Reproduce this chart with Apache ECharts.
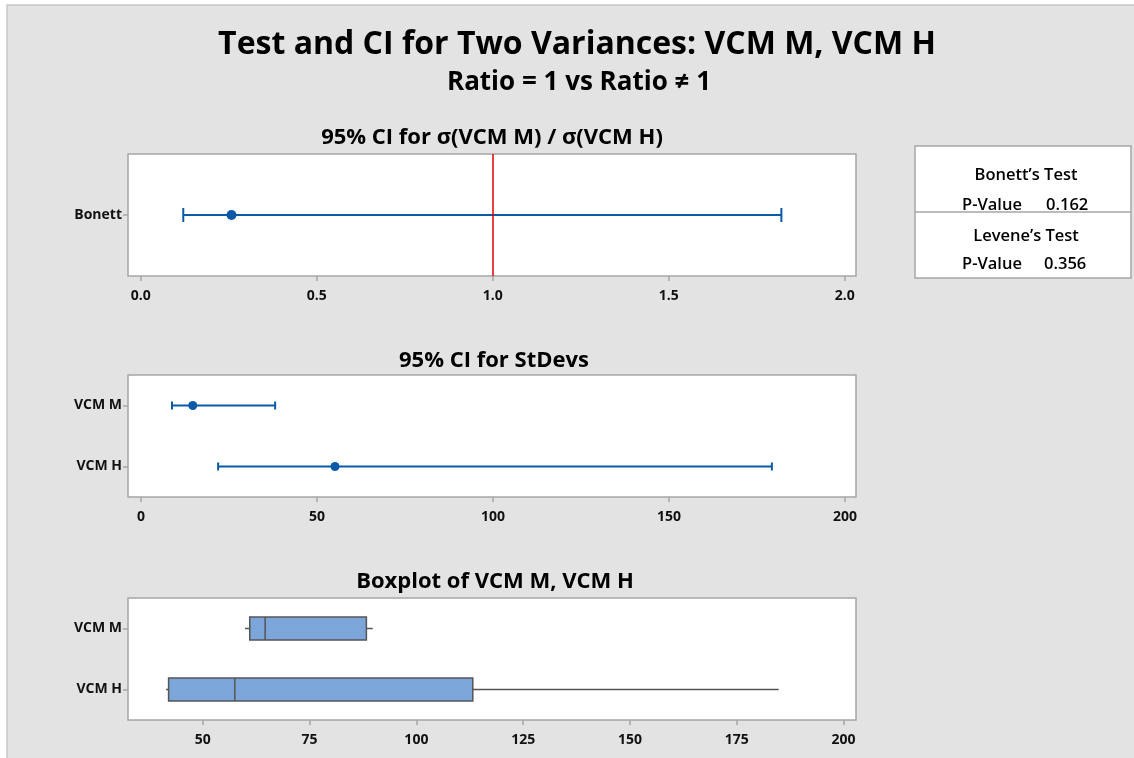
<!DOCTYPE html>
<html>
<head>
<meta charset="utf-8">
<script src="https://cdn.jsdelivr.net/npm/echarts@6/dist/echarts.min.js"></script>
<style>
html,body{margin:0;padding:0;background:#fff;}
#chart{width:1134px;height:758px;}
</style>
</head>
<body>
<div id="chart"></div>
<script>
// ---- data ----
const mainTitle = 'Test and CI for Two Variances: VCM M, VCM H';
const subTitle = 'Ratio = 1 vs Ratio \u2260 1';
const panelTitles = ['95% CI for \u03c3(VCM M) / \u03c3(VCM H)', '95% CI for StDevs', 'Boxplot of VCM M, VCM H'];

const ratioCats = ['Bonett'];
const ratioLower = [0.121];
const ratioEst = [0.258];
const ratioUpper = [1.82];
const ratioRef = 1;
const ratioTicks = [0, 0.5, 1, 1.5, 2];

const sdCats = ['VCM M', 'VCM H'];
const sdLower = [8.8, 21.9];
const sdEst = [14.7, 55.1];
const sdUpper = [38.1, 179.2];
const sdTicks = [0, 50, 100, 150, 200];

const boxCats = ['VCM M', 'VCM H'];
const boxMin = [59.9, 41.4];
const boxQ1 = [61.0, 42.0];
const boxMed = [64.6, 57.5];
const boxQ3 = [88.3, 113.2];
const boxMax = [89.8, 184.8];
const boxTicks = [50, 75, 100, 125, 150, 175, 200];

const testNames = ["Bonett\u2019s Test", "Levene\u2019s Test"];
const pLabel = 'P-Value';
const pValues = ['0.162', '0.356'];

// ---- style ----
const FONT = '"Open Sans", "Liberation Sans", Arial, sans-serif';
const BLUE = '#0a5aa8';
const BORDER = '#a6a6a6';

const chart = echarts.init(document.getElementById('chart'), null, {renderer: 'canvas'});

const grids = [
  {left: 128, width: 728, top: 154, height: 122},
  {left: 128, width: 728, top: 375, height: 122},
  {left: 128, width: 728, top: 598, height: 122}
].map(g => Object.assign(g, {show: true, backgroundColor: '#fff', borderColor: BORDER, borderWidth: 1.5, containLabel: false}));

function xAx(gi, min, max, ticks, fmt, margin) {
  return {
    type: 'value', gridIndex: gi, min: min, max: max,
    axisLine: {show: false, onZero: false},
    splitLine: {show: false},
    axisTick: {show: true, inside: false, length: 5, customValues: ticks, lineStyle: {color: BORDER, width: 1.5}},
    axisLabel: {show: true, customValues: ticks, margin: margin, formatter: fmt,
      color: '#111', fontFamily: FONT, fontWeight: 'bold', fontSize: 14}
  };
}
function yAx(gi, cats) {
  return {
    type: 'category', gridIndex: gi, data: cats, inverse: true,
    axisLine: {show: false, onZero: false},
    axisTick: {show: true, alignWithLabel: true, length: 5, lineStyle: {color: BORDER, width: 1.5}},
    axisLabel: {margin: 6, color: '#111', fontFamily: FONT, fontWeight: 'bold', fontSize: 14},
    splitLine: {show: false}
  };
}

// data layout for CI custom series: [lower, categoryIndex, upper]
function ciRender(capH, lw) {
  return function (params, api) {
    const c = api.value(1);
    const a = api.coord([api.value(0), c]);
    const b = api.coord([api.value(2), c]);
    const st = {stroke: BLUE, lineWidth: lw};
    return {type: 'group', children: [
      {type: 'line', shape: {x1: a[0], y1: a[1], x2: b[0], y2: b[1]}, style: st},
      {type: 'line', shape: {x1: a[0], y1: a[1] - capH / 2, x2: a[0], y2: a[1] + capH / 2}, style: st},
      {type: 'line', shape: {x1: b[0], y1: b[1] - capH / 2, x2: b[0], y2: b[1] + capH / 2}, style: st}
    ]};
  };
}

// data layout for box custom series: [min, categoryIndex, q1, median, q3, max]
function boxRender(params, api) {
  const c = api.value(1);
  const h = 23;
  const pMin = api.coord([api.value(0), c]);
  const pQ1 = api.coord([api.value(2), c]);
  const pMed = api.coord([api.value(3), c]);
  const pQ3 = api.coord([api.value(4), c]);
  const pMax = api.coord([api.value(5), c]);
  const st = {stroke: '#555', lineWidth: 1.5};
  const y = pQ1[1];
  return {type: 'group', children: [
    {type: 'line', shape: {x1: pMin[0], y1: y, x2: pQ1[0], y2: y}, style: st},
    {type: 'line', shape: {x1: pQ3[0], y1: y, x2: pMax[0], y2: y}, style: st},
    {type: 'rect', shape: {x: pQ1[0], y: y - h / 2, width: pQ3[0] - pQ1[0], height: h},
      style: {fill: '#7ca6d9', stroke: '#555', lineWidth: 1.5}},
    {type: 'line', shape: {x1: pMed[0], y1: y - h / 2, x2: pMed[0], y2: y + h / 2}, style: st}
  ]};
}

function txt(x, y, text, font, align) {
  return {type: 'text', x: x, y: y, z: 20,
    style: {text: text, textAlign: align || 'center', textVerticalAlign: 'middle', font: font, fill: '#000'}};
}

const LF = '600 16.5px ' + FONT;
const graphics = [
  {type: 'rect', shape: {x: 7, y: 5, width: 1140, height: 770}, style: {fill: '#e3e3e3', stroke: '#c8c8c8', lineWidth: 1.5}, z: -10},
  txt(577, 45, mainTitle, 'bold 32px ' + FONT),
  txt(579, 83, subTitle, 'bold 26px ' + FONT),
  txt(492, 138, panelTitles[0], 'bold 22px ' + FONT),
  txt(494, 361, panelTitles[1], 'bold 22px ' + FONT),
  txt(495, 582, panelTitles[2], 'bold 22px ' + FONT),
  // test results box
  {type: 'rect', shape: {x: 915, y: 146, width: 216, height: 132}, style: {fill: '#fff', stroke: BORDER, lineWidth: 1.5}},
  {type: 'line', shape: {x1: 915, y1: 212, x2: 1131, y2: 212}, style: {stroke: BORDER, lineWidth: 1.5}, z: 10},
  txt(1026, 175, testNames[0], LF),
  txt(962, 205, pLabel, LF, 'left'),
  txt(1046, 205, pValues[0], LF, 'left'),
  txt(1026, 236, testNames[1], LF),
  txt(962, 264, pLabel, LF, 'left'),
  txt(1044, 264, pValues[1], LF, 'left')
];

const option = {
  backgroundColor: '#fff',
  animation: false,
  grid: grids,
  xAxis: [
    xAx(0, -0.036, 2.032, ratioTicks, v => v.toFixed(1), 13),
    xAx(1, -3.7, 203.1, sdTicks, v => String(v), 13),
    xAx(2, 32.5, 202.9, boxTicks, v => String(v), 13)
  ],
  yAxis: [yAx(0, ratioCats), yAx(1, sdCats), yAx(2, boxCats)],
  graphic: graphics,
  series: [
    {
      type: 'custom', xAxisIndex: 0, yAxisIndex: 0, renderItem: ciRender(14, 2),
      data: ratioCats.map((c, i) => [ratioLower[i], i, ratioUpper[i]]),
      z: 3
    },
    {
      type: 'scatter', xAxisIndex: 0, yAxisIndex: 0, symbolSize: 10,
      itemStyle: {color: BLUE, opacity: 1},
      data: ratioCats.map((c, i) => [ratioEst[i], i]), z: 4,
      markLine: {silent: true, symbol: 'none', label: {show: false},
        lineStyle: {color: '#e00000', type: 'solid', width: 1.5},
        data: [{xAxis: ratioRef}]}
    },
    {
      type: 'custom', xAxisIndex: 1, yAxisIndex: 1, renderItem: ciRender(8, 2),
      data: sdCats.map((c, i) => [sdLower[i], i, sdUpper[i]])
    },
    {
      type: 'scatter', xAxisIndex: 1, yAxisIndex: 1, symbolSize: 9,
      itemStyle: {color: BLUE, opacity: 1},
      data: sdCats.map((c, i) => [sdEst[i], i]), z: 4
    },
    {
      type: 'custom', xAxisIndex: 2, yAxisIndex: 2, renderItem: boxRender,
      data: boxCats.map((c, i) => [boxMin[i], i, boxQ1[i], boxMed[i], boxQ3[i], boxMax[i]])
    }
  ]
};
chart.setOption(option);
</script>
</body>
</html>
